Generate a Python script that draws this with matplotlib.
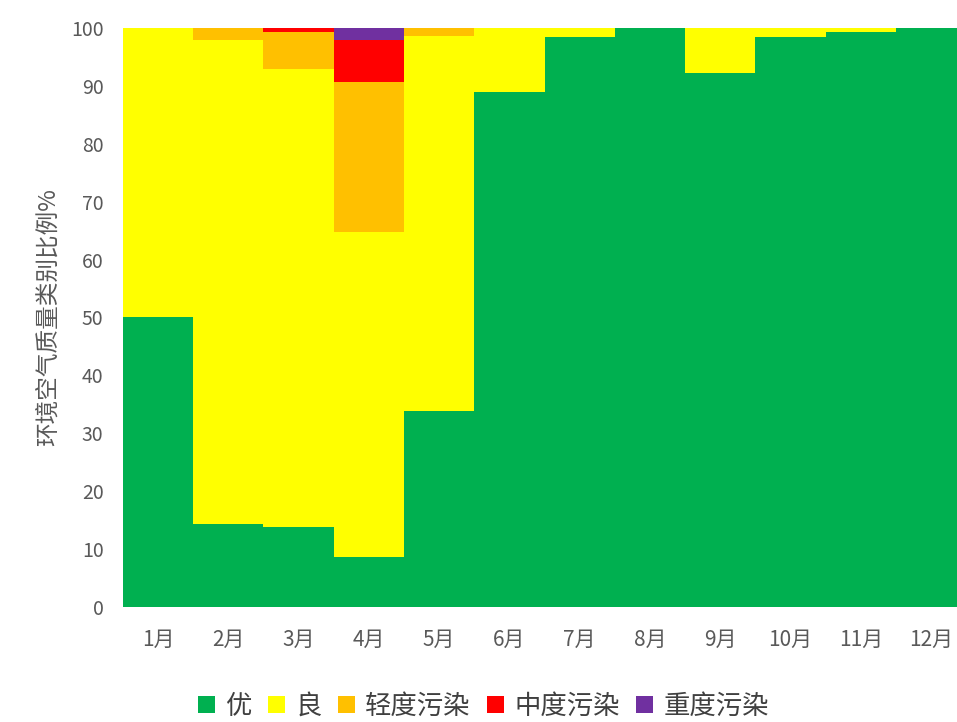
import numpy as np
import matplotlib.pyplot as plt

plt.rcParams['font.family'] = ['Noto Sans CJK SC', 'DejaVu Sans']

months = ['1月', '2月', '3月', '4月', '5月', '6月', '7月', '8月', '9月', '10月', '11月', '12月']
you = [50.0, 14.3, 13.9, 8.6, 33.9, 88.9, 98.5, 100.0, 92.3, 98.5, 99.3, 100.0]
liang = [50.0, 83.7, 79.0, 56.2, 64.8, 11.1, 1.5, 0.0, 7.7, 1.5, 0.7, 0.0]
qingdu = [0.0, 2.0, 6.4, 25.9, 1.3, 0.0, 0.0, 0.0, 0.0, 0.0, 0.0, 0.0]
zhongdu = [0.0, 0.0, 0.7, 7.2, 0.0, 0.0, 0.0, 0.0, 0.0, 0.0, 0.0, 0.0]
zhongdu2 = [0.0, 0.0, 0.0, 2.1, 0.0, 0.0, 0.0, 0.0, 0.0, 0.0, 0.0, 0.0]

series = [('优', you, '#00B050'),
          ('良', liang, '#FFFF00'),
          ('轻度污染', qingdu, '#FFC000'),
          ('中度污染', zhongdu, '#FF0000'),
          ('重度污染', zhongdu2, '#7030A0')]

fig = plt.figure(figsize=(9.57, 7.22), dpi=100)
# the plot runs a little past the right edge of the picture, as in the source
ax = fig.add_axes([0.1285, 0.1593, 0.881, 0.8019])

x = np.arange(len(months))
bottom = np.zeros(len(months))
for name, vals, color in series:
    ax.bar(x, vals, width=1.0, bottom=bottom, color=color, label=name, linewidth=0)
    bottom += np.array(vals)

ax.set_xlim(-0.5, 11.5)
ax.set_ylim(0, 100)
ax.set_yticks(range(0, 101, 10))
ax.set_xticks(x)
ax.set_xticklabels(months)
for s in ax.spines.values():
    s.set_visible(False)
ax.tick_params(axis='both', length=0, labelsize=14, colors='#595959')
ax.tick_params(axis='x', labelsize=15, pad=16)
ax.tick_params(axis='y', pad=14)
ax.set_ylabel('环境空气质量类别比例%', fontsize=17, color='#595959', labelpad=8)

fig.legend(*ax.get_legend_handles_labels(), loc='center', bbox_to_anchor=(0.505, 0.022),
           ncol=5, frameon=False, fontsize=19, handlelength=0.65, handleheight=0.65,
           handletextpad=0.4, columnspacing=0.6, labelcolor='#404040')

fig.savefig('out.png', dpi=100)
